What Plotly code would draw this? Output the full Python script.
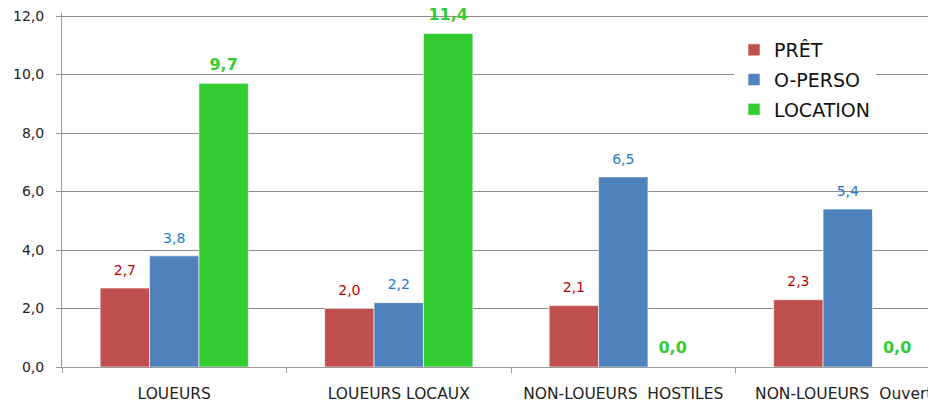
import plotly.graph_objects as go

categories = ["LOUEURS", "LOUEURS LOCAUX", "NON-LOUEURS  HOSTILES", "NON-LOUEURS  Ouverts"]
series_names = ["PRÊT", "O-PERSO", "LOCATION"]
pret = [2.7, 2.0, 2.1, 2.3]
operso = [3.8, 2.2, 6.5, 5.4]
location = [9.7, 11.4, 0.0, 0.0]
y_ticks = [0, 2, 4, 6, 8, 10, 12]

values = [pret, operso, location]
bar_colors = ["#C0504D", "#4F81BD", "#33CC33"]
label_colors = ["#C00000", "#1F7BC8", "#33CC33"]
label_fonts = [
    dict(family="DejaVu Sans", size=14, color=label_colors[0]),
    dict(family="DejaVu Sans", size=14, color=label_colors[1]),
    dict(family="DejaVu Sans", size=16, color=label_colors[2], weight="bold"),
]

fig = go.Figure()

for i, (name, vals) in enumerate(zip(series_names, values)):
    fig.add_trace(go.Bar(
        x=categories, y=vals, name=name,
        marker=dict(color=bar_colors[i], line=dict(color="rgba(255,255,255,0.6)", width=1)),
        offsetgroup=str(i), legendgroup=str(i),
        hoverinfo="skip",
    ))

for i, (name, vals) in enumerate(zip(series_names, values)):
    fig.add_trace(go.Scatter(
        x=categories, y=vals, mode="markers+text",
        text=[f"{v:.1f}".replace(".", ",") for v in vals],
        textposition="top center",
        textfont=label_fonts[i],
        marker=dict(size=14, opacity=0),
        orientation="v", offsetgroup=str(i),
        showlegend=False, hoverinfo="skip", cliponaxis=False,
    ))

# page body has an 8px margin; value 0 at page y 367, value 12 at page y 16
fig.update_layout(
    width=936, height=401,
    margin=dict(l=54, r=8, t=5, b=42),
    paper_bgcolor="white", plot_bgcolor="white",
    barmode="group", bargap=0.34, bargroupgap=0,
    scattermode="group", scattergap=0.34,
    separators=", ",
    showlegend=True,
    legend=dict(
        x=(726 - 54) / 874, xanchor="left",
        y=(359 - 23) / 354, yanchor="top",
        bgcolor="white", borderwidth=0,
        font=dict(family="DejaVu Sans", size=19, color="#111"),
        tracegroupgap=2, traceorder="grouped",
        entrywidth=130, entrywidthmode="pixels",
    ),
    font=dict(family="DejaVu Sans", color="#222"),
)

fig.update_xaxes(
    type="category", range=[-0.5, 3.393],
    showgrid=False, showline=True, linecolor="#9a9a9a", linewidth=1,
    ticks="outside", tickson="boundaries", ticklen=5, tickcolor="#9a9a9a",
    tickfont=dict(family="DejaVu Sans", size=15.5, color="#222"),
    ticklabelstandoff=12, automargin=False, ticklabeloverflow="allow",
)
fig.update_yaxes(
    range=[0, 12.1026], tickvals=y_ticks, tickformat=".1f",
    showgrid=True, gridcolor="#8c8c8c", gridwidth=1,
    showline=True, linecolor="#9a9a9a", linewidth=1,
    ticks="outside", ticklen=5, tickcolor="#9a9a9a",
    tickfont=dict(family="DejaVu Sans", size=14, color="#222"),
    ticklabelstandoff=9, automargin=False, zeroline=False,
    ticklabeloverflow="allow",
)

fig.write_html("out.html")
